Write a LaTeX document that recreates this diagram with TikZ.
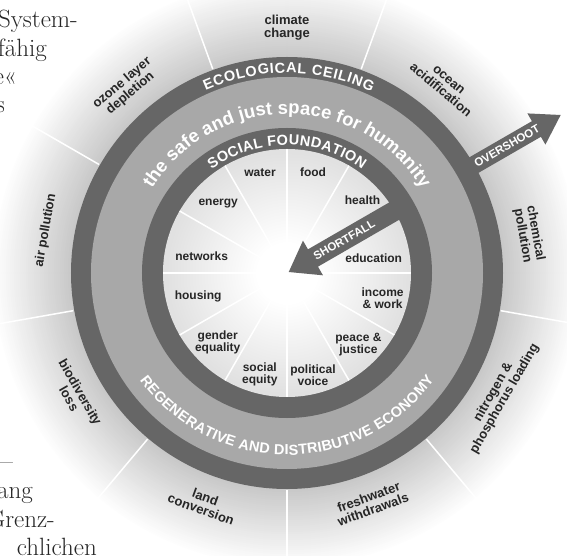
\documentclass[tikz,border=0pt]{standalone}
\usepackage{fontspec}
\newfontfamily\diagfont{Liberation Sans}
\usetikzlibrary{decorations.text}

\definecolor{ringdark}{HTML}{666666}
\definecolor{bandgrey}{HTML}{A8A8A8}
\definecolor{discgrey}{HTML}{C4C4C4}
\definecolor{glowgrey}{HTML}{C8C8C8}
\definecolor{labelink}{HTML}{262626}

% glow in the hole of the doughnut
\pgfdeclareradialshading{discglow}{\pgfpoint{0bp}{0bp}}{color(0bp)=(white); color(6bp)=(white); color(24bp)=(discgrey!50!white); color(50bp)=(discgrey)}

\newcommand{\ringfont}{\diagfont\bfseries\fontsize{14.5}{14.5}\selectfont}
\newcommand{\bandfont}{\diagfont\bfseries\fontsize{18.5}{18.5}\selectfont}

\begin{document}
\begin{tikzpicture}[x=1pt, y=1pt,
    spoke/.style={white, line width=1.5pt},
    seglabel/.style={font=\diagfont\bfseries\fontsize{12}{12}\selectfont, text=labelink, align=center, inner sep=0pt},
    planlabel/.style={font=\diagfont\bfseries\fontsize{13}{13}\selectfont, text=labelink, align=center, inner sep=0pt},
    arrowtext/.style={font=\diagfont\bfseries\fontsize{11.5}{11.5}\selectfont, text=white, inner sep=0pt},
    booktext/.style={font=\fontsize{25}{29}\selectfont, text=black!85, inner sep=0pt, anchor=base east}]

  \useasboundingbox (-287,-283) rectangle (280,273);
  \clip (-287,-283) rectangle (280,273);
  \fill[white] (-287,-283) rectangle (280,273);

  % grey halo fading out to the page, then the planetary boundary spokes
  \foreach \s [evaluate=\s as \pct using {\s*100/39}, evaluate=\s as \rr using {295-2*\s}] in {0,...,39}
    \fill[glowgrey!\pct!white] (0,0) circle[radius=\rr pt];
  \foreach \a in {30,70,...,350}
    \draw[spoke] (\a:217pt) -- (\a:300pt);

  % page text running round the figure
  \node[booktext] (txt1) at (-209,245) {System-};
  \node[booktext] (txt2) at (-240,216) {fähig};
  \node[booktext] (txt3) at (-270,188) {e«};
  \node[booktext] (txt4) at (-282,160) {s};
  \node[booktext] (txt5) at (-274,-196) {—};
  \node[booktext] (txt6) at (-254,-225) {ang};
  \node[booktext] (txt7) at (-232,-254) {Grenz-};
  \node[booktext] (txt8) at (-190,-282) {chlichen};

  % the doughnut
  \fill[ringdark] (0,0) circle[radius=216pt];
  \fill[bandgrey] (0,0) circle[radius=196pt];
  \fill[ringdark] (0,0) circle[radius=145pt];
  \shade[shading=discglow] (0,0) circle[radius=124pt];
  \foreach \a in {0,30,...,330}
    \draw[spoke] (0,0) -- (\a:124pt);

  % social foundation segments
  \foreach \ang/\rad/\txt [count=\i] in {105/104/water, 75.5/104/food, 44/105/health,
      10/88/education, -15/99/{income\\\& work}, -45/101/{peace \&\\justice},
      -75.7/105/{political\\voice}, 255/105/{social\\equity}, 225/98/{gender\\equality},
      195/92/housing, 169/87/networks, 134.6/98/energy}
    \node[seglabel] (social\i) at (\ang:\rad pt) {\txt};

  % planetary boundaries
  \foreach \ang/\rot/\txt [count=\i] in {90/0/{climate\\change}, 50/-40/{ocean\\acidification},
      9/-80/{chemical\\pollution}, -30/60/{nitrogen \&\\phosphorus loading},
      -70/20/{freshwater\\withdrawals}, -110/-20/{land\\conversion},
      -150/-60/{biodiversity\\loss}, 170/80/{air pollution}, 131/40/{ozone layer\\depletion}}
    \node[planlabel, rotate=\rot] (planet\i) at (\ang:245pt) {\txt};

  % overshoot arrow
  \begin{scope}[rotate=30]
    \fill[ringdark] (205,-9) -- (288,-9) -- (288,-18) -- (316,0) -- (288,18) -- (288,9) -- (205,9) -- cycle;
    \node[arrowtext, rotate=30] (overshoot) at (254,0) {OVERSHOOT};
  \end{scope}

  % shortfall arrow
  \begin{scope}[rotate=30]
    \fill[ringdark] (2,0) -- (30,20) -- (30,10) -- (132,10) -- (132,-10) -- (30,-10) -- (30,-20) -- cycle;
    \node[arrowtext, rotate=30] (shortfall) at (66,0) {SHORTFALL};
  \end{scope}

  % lettering along the rings
  \path[decorate, decoration={text along path, text align=fit to path, text color=white,
      text={|\ringfont|ECOLOGICAL CEILING}}]
    (114:200pt) arc[start angle=114, end angle=65, radius=200pt];
  \path[decorate, decoration={text along path, text align=fit to path, text color=white,
      text={|\bandfont|the safe and just space for humanity}}]
    (148:159pt) arc[start angle=148, end angle=32, radius=159pt];
  \path[decorate, decoration={text along path, text align=fit to path, text color=white,
      text={|\ringfont|SOCIAL FOUNDATION}}]
    (126:128pt) arc[start angle=126, end angle=54, radius=128pt];
  \path[decorate, decoration={text along path, text align=fit to path, text color=white,
      text={|\ringfont|REGENERATIVE AND DISTRIBUTIVE ECONOMY}}]
    (216:182pt) arc[start angle=216, end angle=324, radius=182pt];
\end{tikzpicture}
\end{document}
